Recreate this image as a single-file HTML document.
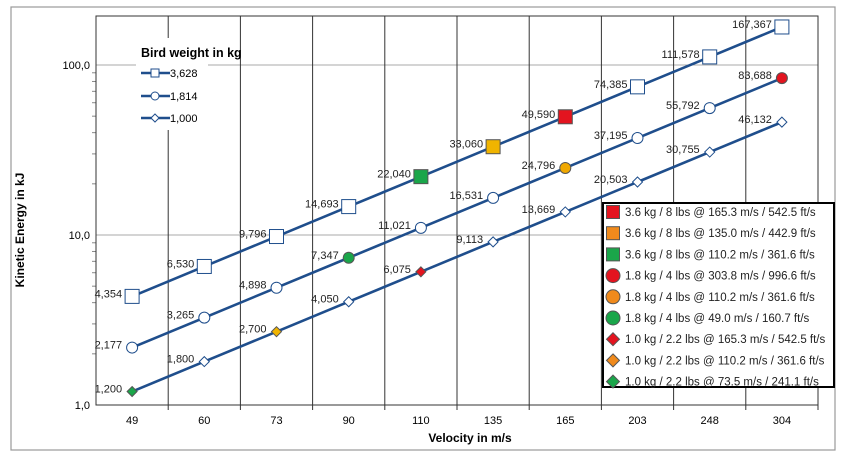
<!DOCTYPE html>
<html><head><meta charset="utf-8"><style>
body{margin:0;background:#fff}
svg text{font-family:"Liberation Sans",sans-serif}
</style></head><body>
<svg id="chart" width="850" height="467" viewBox="0 0 850 467" xmlns="http://www.w3.org/2000/svg">
<rect x="11" y="7" width="824" height="443" fill="#fff" stroke="#999" stroke-width="1.2"/>
<g id="grid"></g>
<g id="axes"></g>
<g id="series"></g>
<g id="labels"></g>
<text transform="translate(24,230) rotate(-90)" text-anchor="middle" font-size="12" font-weight="bold">Kinetic Energy in kJ</text>
<text x="470" y="442" text-anchor="middle" font-size="12" font-weight="bold">Velocity in m/s</text>
<g>
<rect x="136" y="38" width="72" height="92" fill="#fff"/>
<text x="141" y="57" font-size="12.5" font-weight="bold">Bird weight in kg</text>
<line x1="141" y1="73" x2="170" y2="73" stroke="#1f4e8c" stroke-width="2.5"/><rect x="151" y="69" width="8" height="8" fill="#fff" stroke="#1f4e8c"/><text x="170" y="77" font-size="11">3,628</text>
<line x1="141" y1="96" x2="170" y2="96" stroke="#1f4e8c" stroke-width="2.5"/><circle cx="155" cy="96" r="4" fill="#fff" stroke="#1f4e8c"/><text x="170" y="100" font-size="11">1,814</text>
<line x1="141" y1="118" x2="170" y2="118" stroke="#1f4e8c" stroke-width="2.5"/><path d="M155,114 L159,118 L155,122 L151,118Z" fill="#fff" stroke="#1f4e8c"/><text x="170" y="122" font-size="11">1,000</text>
</g>
<g>
<rect x="603" y="203" width="231" height="184" fill="#fff" stroke="#000" stroke-width="2"/>
<g id="hl"></g>
</g>
</svg>
<script>
const categories=["49","60","73","90","110","135","165","203","248","304"];
const s3628=[4.354,6.530,9.796,14.693,22.040,33.060,49.590,74.385,111.578,167.367];
const s1814=[2.177,3.265,4.898,7.347,11.021,16.531,24.796,37.195,55.792,83.688];
const s1000=[1.200,1.800,2.700,4.050,6.075,9.113,13.669,20.503,30.755,46.132];
const s3628Colors={4:"#1aa64a",5:"#f0b400",6:"#e3141f"};
const s1814Colors={3:"#1aa64a",6:"#f0a800",9:"#e3141f"};
const s1000Colors={0:"#1aa64a",2:"#f0b400",4:"#e3141f"};
const yTicks=[1,10,100];
const yTickLabels=["1,0","10,0","100,0"];
const legendItems=["3.6 kg / 8 lbs @ 165.3 m/s / 542.5 ft/s","3.6 kg / 8 lbs @ 135.0 m/s / 442.9 ft/s","3.6 kg / 8 lbs @ 110.2 m/s / 361.6 ft/s","1.8 kg / 4 lbs @ 303.8 m/s / 996.6 ft/s","1.8 kg / 4 lbs @ 110.2 m/s / 361.6 ft/s","1.8 kg / 4 lbs @ 49.0 m/s / 160.7 ft/s","1.0 kg / 2.2 lbs @ 165.3 m/s / 542.5 ft/s","1.0 kg / 2.2 lbs @ 110.2 m/s / 361.6 ft/s","1.0 kg / 2.2 lbs @ 73.5 m/s / 241.1 ft/s"];
const legendColors=["#e3141f","#f08a1c","#1aa64a","#e3141f","#f08a1c","#1aa64a","#e3141f","#f08a1c","#1aa64a"];
const legendShapes=["sq","sq","sq","ci","ci","ci","di","di","di"];
const NS="http://www.w3.org/2000/svg";
const L=96,R=818,T=16,B=405;
const bw=(R-L)/categories.length;
const xs=i=>L+bw*(i+0.5);
const ys=v=>B-Math.log10(v)*170;
function mk(tag,attrs,parent,txt){const e=document.createElementNS(NS,tag);for(const k in attrs)e.setAttribute(k,attrs[k]);if(txt!==undefined)e.textContent=txt;document.getElementById(parent).appendChild(e);return e;}
yTicks.forEach((t,i)=>{
 if(i>0){const g=mk('line',{x1:L,x2:R,y1:ys(t),y2:ys(t),stroke:'#aaa'},'grid');
  
  }
 const tl=mk('text',{x:90,y:ys(t)+4,'text-anchor':'end','font-size':11},'axes',yTickLabels[i]);
 
 
});
for(let d=0;d<2;d++)for(let m=2;m<10;m++){mk('line',{x1:L-4,x2:L,y1:ys(m*Math.pow(10,d)),y2:ys(m*Math.pow(10,d)),stroke:'#888'},'axes');}
for(let i=1;i<categories.length;i++){const g=mk('line',{x1:L+bw*i,x2:L+bw*i,y1:T,y2:B+5,stroke:'#333'},'grid');
 
 }
mk('rect',{x:L,y:T,width:R-L,height:B-T,fill:'none',stroke:'#333'},'axes');
mk('line',{x1:R,x2:R,y1:B,y2:B+5,stroke:'#333'},'axes');
categories.forEach((c,i)=>{const t=mk('text',{x:xs(i),y:424,'text-anchor':'middle','font-size':11},'axes',c);
 
 });
function fmt(v){return v.toFixed(3).replace('.',',');}
function marker(shape,cx,cy,fill,s,parent){
 const st=fill==='#fff'?'#1f4e8c':'#555';
 if(shape==='sq')return mk('rect',{x:cx-s,y:cy-s,width:2*s,height:2*s,fill:fill,stroke:st,'stroke-width':1},parent);
 if(shape==='ci')return mk('circle',{cx:cx,cy:cy,r:s,fill:fill,stroke:st},parent);
 return mk('path',{d:`M${cx},${cy-s}L${cx+s},${cy}L${cx},${cy+s}L${cx-s},${cy}Z`,fill:fill,stroke:st},parent);
}
function series(vals,colors,shape,size,name){
 const pts=vals.map((v,i)=>xs(i)+','+ys(v)).join(' ');
 const pl=mk('polyline',{points:pts,fill:'none',stroke:'#1f4e8c','stroke-width':2.6},'series');
 
 
 vals.forEach((v,i)=>{const m=marker(shape,xs(i),ys(v),colors[i]||'#fff',size,'series');
  
  
  const t=mk('text',{x:xs(i)-10,y:ys(v)+1,'text-anchor':'end','font-size':11,fill:'#222'},'labels',fmt(v));
  
  });
}
series(s3628,s3628Colors,'sq',7,'series-3628');
series(s1814,s1814Colors,'ci',5.5,'series-1814');
series(s1000,s1000Colors,'di',5,'series-1000');
legendItems.forEach((txt,i)=>{const cy=212+i*21.2;
 marker(legendShapes[i],613,cy,legendColors[i],legendShapes[i]==='ci'?7:6.5,'hl');
 const t=mk('text',{x:625,y:cy+4,'font-size':11.5,fill:'#222'},'hl',txt);
 
 });
</script>
</body></html>
